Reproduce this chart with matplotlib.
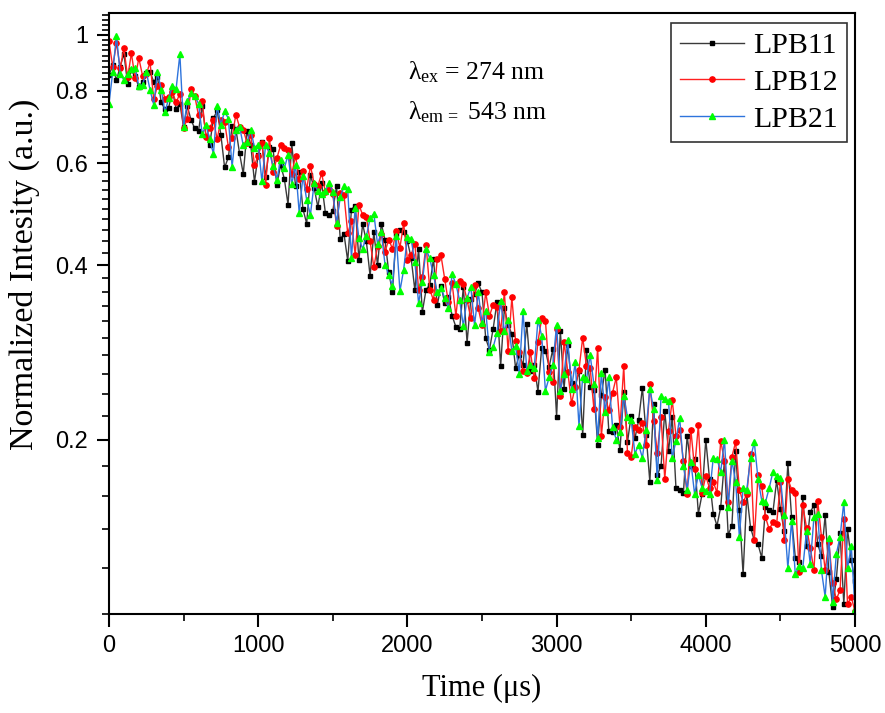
import numpy as np
import matplotlib
matplotlib.use("Agg")
import matplotlib.pyplot as plt
from matplotlib.ticker import FixedLocator, NullFormatter, FixedFormatter

# ---- data ----
time_step_us = 25
series_names = ["LPB11", "LPB12", "LPB21"]

lpb11 = [
    .852, .885, .834, .881, .927, .822, .868, .847, .812, .829,
    .859, .863, .829, .846, .764, .743, .748, .800, .745, .760,
    .693, .753, .712, .689, .682, .754, .669, .646, .717, .740,
    .671, .590, .614, .695, .688, .624, .575, .681, .646, .557,
    .620, .653, .567, .640, .634, .550, .596, .564, .509, .650,
    .547, .579, .500, .472, .572, .544, .504, .555, .493, .488,
    .496, .548, .444, .453, .407, .499, .507, .409, .471, .440,
    .383, .456, .400, .472, .442, .389, .360, .453, .461, .456,
    .440, .412, .362, .427, .332, .363, .370, .410, .341, .369,
    .344, .352, .327, .313, .310, .367, .294, .350, .357, .372,
    .359, .299, .286, .311, .345, .268, .337, .316, .304, .266,
    .280, .269, .317, .263, .269, .242, .288, .285, .267, .287,
    .219, .308, .245, .291, .250, .247, .263, .204, .286, .247,
    .244, .196, .239, .264, .207, .206, .212, .192, .242, .198,
    .220, .201, .216, .246, .204, .169, .230, .174, .180, .224,
    .191, .219, .165, .164, .162, .203, .180, .185, .149, .161,
    .200, .171, .149, .142, .153, .184, .137, .142, .191, .151,
    .117, .161, .141, .134, .132, .125, .153, .151, .150, .170,
    .152, .139, .182, .147, .125, .123, .159, .131, .150, .154,
    .132, .126, .148, .118, .103, .115, .138, .104, .140, .124,
    .114,
]

lpb12 = [
    .974, .880, .968, .875, .948, .844, .929, .841, .911, .849,
    .854, .896, .773, .816, .820, .775, .780, .796, .764, .791,
    .690, .716, .807, .783, .726, .767, .665, .690, .713, .660,
    .713, .707, .640, .663, .728, .693, .685, .651, .671, .596,
    .618, .651, .551, .664, .579, .612, .644, .637, .632, .575,
    .618, .564, .582, .541, .594, .553, .548, .576, .536, .542,
    .530, .468, .534, .529, .454, .477, .417, .508, .489, .484,
    .440, .397, .431, .452, .422, .443, .427, .458, .429, .473,
    .409, .417, .436, .363, .382, .434, .363, .348, .410, .416,
    .379, .345, .372, .327, .375, .371, .348, .324, .370, .337,
    .315, .359, .327, .342, .339, .308, .359, .284, .352, .296,
    .283, .263, .261, .283, .255, .295, .324, .321, .262, .251,
    .311, .238, .295, .262, .231, .247, .264, .300, .268, .266,
    .226, .288, .203, .237, .225, .241, .256, .210, .268, .190,
    .187, .210, .208, .214, .196, .249, .215, .190, .219, .171,
    .207, .234, .203, .208, .184, .161, .208, .178, .212, .162,
    .173, .165, .169, .162, .199, .184, .156, .187, .198, .164,
    .156, .161, .189, .134, .174, .166, .147, .140, .144, .143,
    .169, .134, .171, .164, .162, .118, .154, .141, .130, .119,
    .157, .136, .119, .133, .113, .106, .110, .146, .104, .107,
    .101,
]

lpb21 = [
    .760, .862, .995, .857, .835, .854, .872, .877, .815, .820,
    .863, .803, .757, .862, .804, .735, .776, .816, .807, .925,
    .692, .768, .792, .785, .760, .673, .698, .660, .623, .754,
    .699, .738, .716, .591, .686, .694, .644, .652, .686, .638,
    .646, .558, .646, .626, .593, .562, .607, .588, .620, .552,
    .595, .492, .571, .518, .489, .554, .537, .531, .538, .554,
    .535, .473, .524, .547, .541, .412, .503, .445, .427, .449,
    .482, .491, .435, .456, .401, .385, .369, .449, .361, .393,
    .448, .444, .405, .344, .374, .426, .411, .384, .359, .366,
    .351, .338, .386, .371, .348, .314, .351, .367, .315, .359,
    .318, .334, .283, .289, .305, .347, .308, .322, .284, .290,
    .260, .334, .263, .269, .266, .322, .302, .243, .256, .269,
    .316, .243, .260, .297, .245, .272, .211, .257, .254, .280,
    .249, .201, .261, .223, .256, .210, .200, .206, .238, .219,
    .216, .189, .196, .186, .208, .245, .226, .170, .238, .235,
    .233, .186, .199, .218, .180, .164, .183, .161, .174, .165,
    .163, .161, .186, .185, .176, .200, .153, .184, .169, .136,
    .165, .164, .186, .198, .171, .157, .156, .165, .176, .173,
    .172, .148, .120, .145, .117, .121, .120, .139, .122, .147,
    .149, .119, .107, .135, .105, .127, .136, .156, .120, .131,
    .102,
]

x_ticks = [0, 1000, 2000, 3000, 4000, 5000]
y_ticks = [0.2, 0.4, 0.6, 0.8, 1.0]
y_tick_labels = ["0.2", "0.4", "0.6", "0.8", "1"]

time_us = np.arange(len(lpb11)) * time_step_us

# ---- figure ----
plt.rcParams["mathtext.fontset"] = "custom"
plt.rcParams["mathtext.rm"] = "Liberation Serif"
plt.rcParams["mathtext.it"] = "Liberation Serif:italic"

fig = plt.figure(figsize=(8.85, 7.13), dpi=100)
ax = fig.add_axes([109 / 885, 1 - 614 / 713, (855 - 109) / 885, (614 - 13) / 713])

styles = [
    dict(color="#3a3a3a", marker="s", mfc="black", mec="black", ms=3.3),
    dict(color="#ff2020", marker="o", mfc="red", mec="red", ms=3.8),
    dict(color="#2e74dc", marker="^", mfc="#00ff00", mec="#00ff00", ms=4.2),
]
for name, vals, st in zip(series_names, [lpb11, lpb12, lpb21], styles):
    ax.plot(time_us, vals, lw=1.0, label=name, **st)

ax.set_yscale("log")
ax.set_xlim(0, 5000)
ax.set_ylim(0.1, 1.09)

ax.xaxis.set_major_locator(FixedLocator(x_ticks))
ax.xaxis.set_minor_locator(FixedLocator([500, 1500, 2500, 3500, 4500]))
ax.yaxis.set_major_locator(FixedLocator(y_ticks))
ax.yaxis.set_major_formatter(FixedFormatter(y_tick_labels))
minor_y = [round(v, 2) for v in np.arange(0.10, 1.09, 0.02) if round(v, 2) not in y_ticks]
ax.yaxis.set_minor_locator(FixedLocator(minor_y))
ax.yaxis.set_minor_formatter(NullFormatter())

for lab in ax.get_xticklabels() + ax.get_yticklabels():
    lab.set_fontfamily("Liberation Sans")
    lab.set_fontsize(17)

ax.tick_params(which="major", direction="out", length=9, width=1.5, pad=6)
ax.tick_params(which="minor", direction="out", length=5, width=1.2)
ax.tick_params(top=False, right=False, which="both")
for sp in ax.spines.values():
    sp.set_linewidth(1.5)

ax.set_xlabel("Time (μs)", fontfamily="Liberation Serif", fontsize=22, labelpad=12)
ax.set_ylabel("Normalized Intesity (a.u.)", fontfamily="Liberation Serif", fontsize=24.5)
ax.yaxis.set_label_coords(-0.093, 0.565)

ax.text(0.401, 0.902, "λ$_{\\rm ex}$ = 274 nm", transform=ax.transAxes,
        fontfamily="Liberation Serif", fontsize=18.5, va="center", ha="left")
ax.text(0.401, 0.835, "λ$_{\\rm em\\,=}$ 543 nm", transform=ax.transAxes,
        fontfamily="Liberation Serif", fontsize=18.5, va="center", ha="left")

leg = ax.legend(loc="upper right", bbox_to_anchor=(0.989, 0.983), numpoints=1,
                prop={"family": "Liberation Serif", "size": 21.5}, frameon=True,
                fancybox=False, edgecolor="black", handlelength=2.15,
                handletextpad=0.3, borderpad=0.3, labelspacing=0.33,
                borderaxespad=0.0)
leg.get_frame().set_linewidth(1.2)

fig.savefig("out.png", dpi=100)
